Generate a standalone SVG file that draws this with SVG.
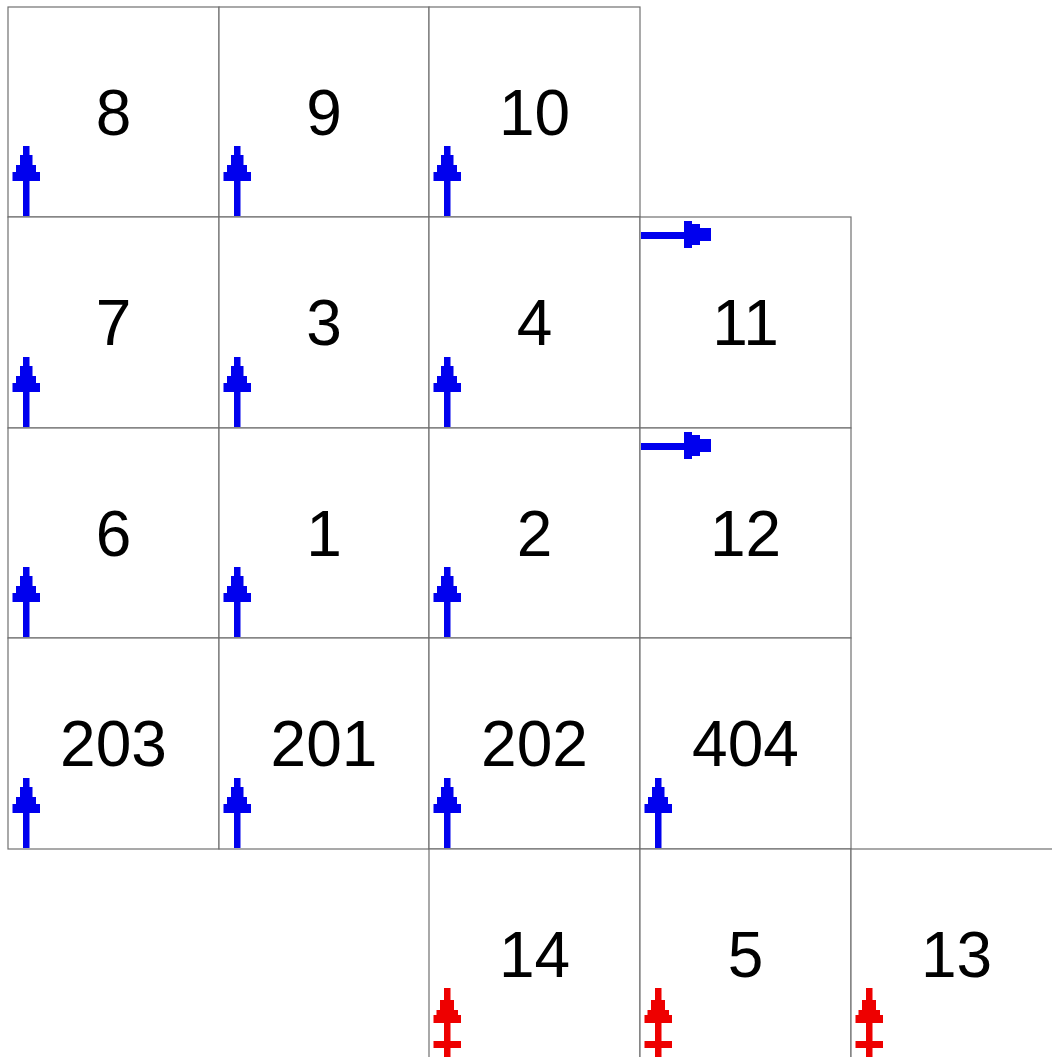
<svg xmlns="http://www.w3.org/2000/svg" xmlns:xlink="http://www.w3.org/1999/xlink" width="1052" height="1057" viewBox="0 0 1052 1057">
<style>
.cell{fill:#fff;stroke:#707070;stroke-width:1.2}
.lbl{font-family:"Liberation Sans",Arial,sans-serif;font-size:64px;fill:#000;text-anchor:middle}
.blue{fill:#0000ee}
.red{fill:#ee0000}
</style>
<defs>
<!-- origin at cell bottom-left -->
<g id="up" class="blue">
<rect x="15" y="-37" width="6.5" height="36"/>
<polygon points="15,-71 21.5,-71 21.5,-62 24.5,-62 24.5,-52 28,-52 28,-45 32,-45 32,-36 4.5,-36 4.5,-45 8,-45 8,-52 12,-52 12,-62 15,-62"/>
</g>
<!-- origin at cell top-left -->
<g id="upred" class="red">
<rect x="15" y="172" width="6.5" height="42"/>
<polygon points="15,139 21.5,139 21.5,151 25,151 25,161 29,161 29,166 32,166 32,174 4.5,174 4.5,166 7.5,166 7.5,161 11,161 11,151 15,151"/>
<rect x="4.5" y="192" width="27.5" height="7"/>
</g>
<g id="right" class="blue">
<rect x="1" y="15" width="45" height="7"/>
<polygon points="44,4 52,4 52,7 60,7 60,11 71,11 71,24 60,24 60,28 52,28 52,31 44,31"/>
</g>
</defs>
<rect width="1052" height="1057" fill="#fff"/>
<g id="node-8"><rect class="cell" x="8" y="7" width="211" height="210"/><text class="lbl" x="113.5" y="135">8</text><use xlink:href="#up" x="8" y="217"/></g>
<g id="node-9"><rect class="cell" x="219" y="7" width="210" height="210"/><text class="lbl" x="324" y="135">9</text><use xlink:href="#up" x="219" y="217"/></g>
<g id="node-10"><rect class="cell" x="429" y="7" width="211" height="210"/><text class="lbl" x="534.5" y="135">10</text><use xlink:href="#up" x="429" y="217"/></g>

<g id="node-7"><rect class="cell" x="8" y="217" width="211" height="211"/><text class="lbl" x="113.5" y="345">7</text><use xlink:href="#up" x="8" y="428"/></g>
<g id="node-3"><rect class="cell" x="219" y="217" width="210" height="211"/><text class="lbl" x="324" y="345">3</text><use xlink:href="#up" x="219" y="428"/></g>
<g id="node-4"><rect class="cell" x="429" y="217" width="211" height="211"/><text class="lbl" x="534.5" y="345">4</text><use xlink:href="#up" x="429" y="428"/></g>
<g id="node-11"><rect class="cell" x="640" y="217" width="211" height="211"/><text class="lbl" x="745.5" y="345">11</text><use xlink:href="#right" x="640" y="217"/></g>

<g id="node-6"><rect class="cell" x="8" y="428" width="211" height="210"/><text class="lbl" x="113.5" y="556">6</text><use xlink:href="#up" x="8" y="638"/></g>
<g id="node-1"><rect class="cell" x="219" y="428" width="210" height="210"/><text class="lbl" x="324" y="556">1</text><use xlink:href="#up" x="219" y="638"/></g>
<g id="node-2"><rect class="cell" x="429" y="428" width="211" height="210"/><text class="lbl" x="534.5" y="556">2</text><use xlink:href="#up" x="429" y="638"/></g>
<g id="node-12"><rect class="cell" x="640" y="428" width="211" height="210"/><text class="lbl" x="745.5" y="556">12</text><use xlink:href="#right" x="640" y="428"/></g>

<g id="node-203"><rect class="cell" x="8" y="638" width="211" height="211"/><text class="lbl" x="113.5" y="766">203</text><use xlink:href="#up" x="8" y="849"/></g>
<g id="node-201"><rect class="cell" x="219" y="638" width="210" height="211"/><text class="lbl" x="324" y="766">201</text><use xlink:href="#up" x="219" y="849"/></g>
<g id="node-202"><rect class="cell" x="429" y="638" width="211" height="211"/><text class="lbl" x="534.5" y="766">202</text><use xlink:href="#up" x="429" y="849"/></g>
<g id="node-404"><rect class="cell" x="640" y="638" width="211" height="211"/><text class="lbl" x="745.5" y="766">404</text><use xlink:href="#up" x="640" y="849"/></g>

<g id="node-14"><rect class="cell" x="429" y="849" width="211" height="215"/><text class="lbl" x="534.5" y="977">14</text><use xlink:href="#upred" x="429" y="849"/></g>
<g id="node-5"><rect class="cell" x="640" y="849" width="211" height="215"/><text class="lbl" x="745.5" y="977">5</text><use xlink:href="#upred" x="640" y="849"/></g>
<g id="node-13"><rect class="cell" x="851" y="849" width="215" height="215"/><text class="lbl" x="956.5" y="977">13</text><use xlink:href="#upred" x="851" y="849"/></g>
<g id="connectors"></g>
</svg>
